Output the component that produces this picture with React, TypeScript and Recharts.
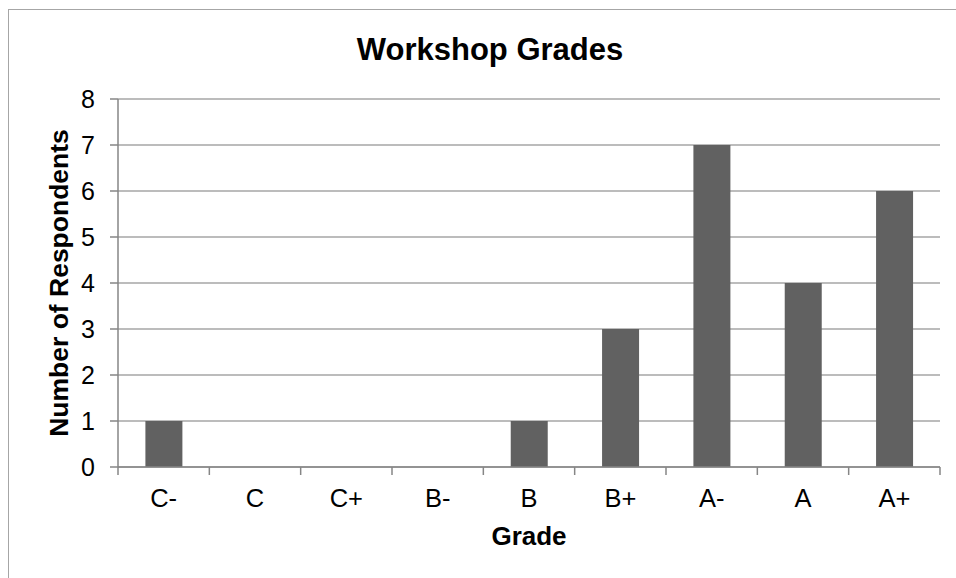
import React from 'react';
import { BarChart, Bar, XAxis, YAxis, CartesianGrid } from 'recharts';

// Grades and how many respondents gave each one
const grades = ['C-', 'C', 'C+', 'B-', 'B', 'B+', 'A-', 'A', 'A+'];
const respondents = [1, 0, 0, 0, 1, 3, 7, 4, 6];
const yTicks = [0, 1, 2, 3, 4, 5, 6, 7, 8];

const chartData = grades.map((grade, i) => ({ grade, count: respondents[i] }));

const font = '"Liberation Sans", Arial, sans-serif';
const axisColor = '#868686';
const gridColor = '#a6a6a6';
const TICK_SIZE = 8;
const TICK_MARGIN = 14;

// Excel puts the x tick marks between the categories, not under them
const GradeTick = (props: any) => {
  const { x, y, payload, index, visibleTicksCount } = props;
  const half = payload.offset || 0;
  const y0 = y - TICK_SIZE - TICK_MARGIN;
  const isLast = index === visibleTicksCount - 1;
  return (
    <g>
      <line x1={x - half} x2={x - half} y1={y0} y2={y0 + TICK_SIZE} stroke={axisColor} strokeWidth={1.5} />
      {isLast && (
        <line x1={x + half} x2={x + half} y1={y0} y2={y0 + TICK_SIZE} stroke={axisColor} strokeWidth={1.5} />
      )}
      <text x={x} y={y} dy="0.71em" textAnchor="middle" fontSize={25.5} fill="#000" fontFamily={font}>
        {payload.value}
      </text>
    </g>
  );
};

const App: React.FC = () => {
  return (
    <div
      style={{
        position: 'fixed',
        left: 0,
        top: 0,
        width: 956,
        height: 578,
        overflow: 'hidden',
        background: '#fff',
        fontFamily: font,
      }}
    >
      {/* chart frame, it runs off the right and bottom edges */}
      <div
        style={{
          position: 'absolute',
          left: 8,
          top: 9,
          width: 1000,
          height: 1000,
          border: '1px solid #a6a6a6',
        }}
      />
      <div
        style={{
          position: 'absolute',
          left: 240,
          width: 500,
          top: 34,
          textAlign: 'center',
          fontSize: 31,
          lineHeight: '31px',
          fontWeight: 'bold',
          color: '#000',
        }}
      >
        Workshop Grades
      </div>
      <div style={{ position: 'absolute', left: 0, top: 0 }}>
        <BarChart
          width={956}
          height={578}
          data={chartData}
          margin={{ top: 99, right: 16, bottom: 0, left: 0 }}
          barCategoryGap="30%"
        >
          <CartesianGrid vertical={false} stroke={gridColor} strokeWidth={1.5} />
          <XAxis
            dataKey="grade"
            height={111}
            interval={0}
            stroke={axisColor}
            strokeWidth={1.5}
            tickLine={false}
            tickSize={TICK_SIZE}
            tickMargin={TICK_MARGIN}
            tick={GradeTick}
            label={{
              value: 'Grade',
              position: 'insideBottom',
              offset: 33,
              style: { fontSize: 26, fontWeight: 'bold', fill: '#000', fontFamily: font },
            }}
          />
          <YAxis
            width={118}
            domain={[0, 8]}
            ticks={yTicks}
            interval={0}
            tickSize={TICK_SIZE}
            tickMargin={15}
            stroke={axisColor}
            strokeWidth={1.5}
            tick={{ fontSize: 25, fill: '#000', fontFamily: font }}
            label={{
              value: 'Number of Respondents',
              angle: -90,
              position: 'center',
              style: { fontSize: 26.5, fontWeight: 'bold', fill: '#000', fontFamily: font, textAnchor: 'middle' },
            }}
          />
          <Bar dataKey="count" fill="#616161" isAnimationActive={false} />
        </BarChart>
      </div>
    </div>
  );
};

export default App;
